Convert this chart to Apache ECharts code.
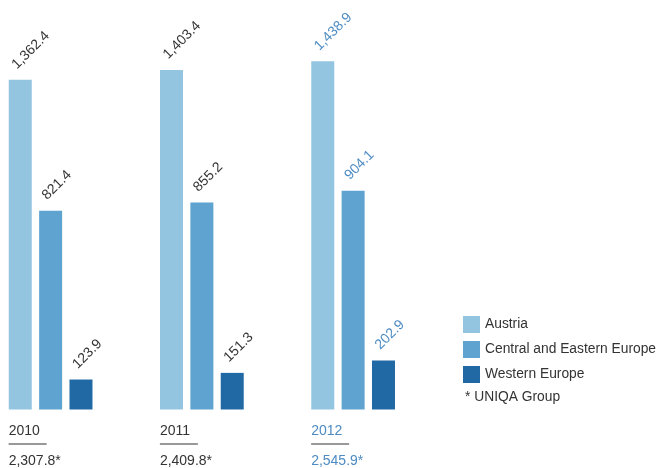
<!DOCTYPE html>
<html>
<head>
<meta charset="utf-8">
<script src="https://cdn.jsdelivr.net/npm/echarts@6/dist/echarts.min.js"></script>
<style>html,body{margin:0;padding:0;background:#fff;overflow:hidden}#c{position:absolute;left:-25px;top:0;width:684px;height:468px}</style>
</head>
<body>
<div id="c"></div>
<script>
const years = ['2010', '2011', '2012'];
const totals = ['2,307.8*', '2,409.8*', '2,545.9*'];
const austria = [1362.4, 1403.4, 1438.9];
const cee = [821.4, 855.2, 904.1];
const westernEurope = [123.9, 151.3, 202.9];
const seriesNames = ['Austria', 'Central and Eastern Europe', 'Western Europe'];
const footnote = '* UNIQA Group';

const FONT = '"Liberation Sans", Arial, sans-serif';
const DARK = '#333333';
const BLUE = '#4d8bc3';
const colors = ['#93c5e0', '#5fa4d1', '#2169a5'];
const SHIFT = 25; // container is shifted left by this many px

function fmt(v) {
  return v.toLocaleString('en-US', {minimumFractionDigits: 1, maximumFractionDigits: 1});
}
function mkData(arr) {
  return arr.map((v, i) => i === years.length - 1 ? {value: v, label: {color: BLUE}} : v);
}
function mkSeries(name, arr, color) {
  return {
    name: name, type: 'bar', data: mkData(arr), barWidth: 23, barGap: '32%',
    itemStyle: {color: color},
    label: {
      show: true, position: 'top', rotate: 45, align: 'left', verticalAlign: 'middle',
      distance: 0, offset: [5, -13.5], color: DARK, fontFamily: FONT, fontSize: 14,
      formatter: p => fmt(p.value)
    }
  };
}

const chart = echarts.init(document.getElementById('c'), null, {renderer: 'canvas'});
chart.setOption({
  animation: false,
  grid: {left: 0, width: 453.75, top: 46.5, bottom: 56},
  xAxis: {
    type: 'category', data: years,
    axisLine: {show: false}, axisTick: {show: false},
    axisLabel: {
      margin: 11, align: 'center', verticalAlign: 'top',
      formatter: (v, i) => {
        const s = i === years.length - 1 ? 'b' : 'd';
        return '{y' + s + '|' + v + '}\n{ln|}\n{t' + s + '|' + totals[i] + '}';
      },
      rich: {
        yd: {fontFamily: FONT, fontSize: 14, color: DARK, width: 84, align: 'left', lineHeight: 22},
        yb: {fontFamily: FONT, fontSize: 14, color: BLUE, width: 84, align: 'left', lineHeight: 22},
        ln: {width: 38, height: 1, backgroundColor: DARK, align: 'left', lineHeight: 3},
        td: {fontFamily: FONT, fontSize: 14, color: DARK, width: 84, align: 'left', lineHeight: 31},
        tb: {fontFamily: FONT, fontSize: 14, color: BLUE, width: 84, align: 'left', lineHeight: 31}
      }
    }
  },
  yAxis: {type: 'value', min: 0, max: 1500, show: false, splitLine: {show: false}},
  legend: {
    orient: 'vertical', left: 463 + SHIFT, top: 316, padding: 0, icon: 'rect',
    itemWidth: 17, itemHeight: 17, itemGap: 8,
    textStyle: {fontFamily: FONT, fontSize: 13.8, color: DARK}, data: seriesNames
  },
  graphic: [{
    type: 'text', left: 465 + SHIFT, top: 390,
    style: {text: footnote, fontFamily: FONT, fontSize: 13.8, fill: DARK}
  }],
  series: [
    mkSeries(seriesNames[0], austria, colors[0]),
    mkSeries(seriesNames[1], cee, colors[1]),
    mkSeries(seriesNames[2], westernEurope, colors[2])
  ]
});
</script>
</body>
</html>
